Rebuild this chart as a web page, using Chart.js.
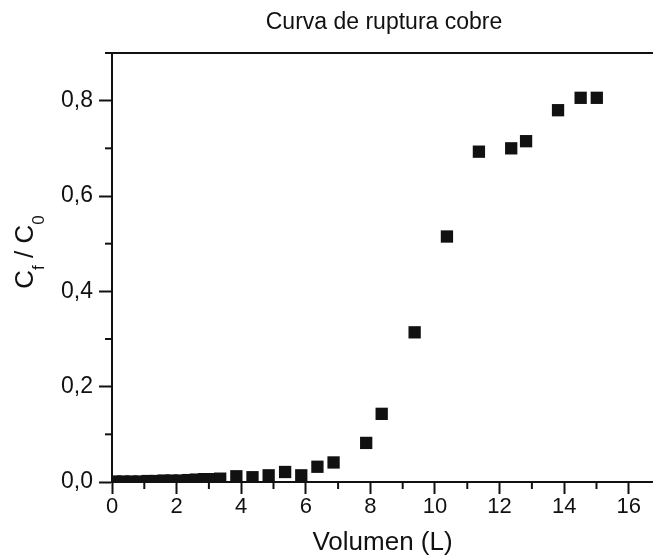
<!DOCTYPE html>
<html lang="es">
  <head>
    <meta charset="UTF-8" />
    <title>Curva de ruptura cobre</title>
    <style>
      html,
      body {
        margin: 0;
        padding: 0;
        background: #fff;
        overflow: hidden;
      }
      #wrap {
        width: 768px;
        height: 560px;
      }
    </style>
  </head>
  <body>
    <div id="wrap"><canvas id="curva"></canvas></div>
    <script src="https://cdn.jsdelivr.net/npm/chart.js"></script>
    <script>
      // Volumen eluido (L) y concentración relativa Cf/C0
      const volumen = [
        0.1, 0.35, 0.6, 0.85, 1.1, 1.35, 1.6, 1.85, 2.1, 2.35, 2.6, 2.85, 3.1,
        3.35, 3.85, 4.35, 4.85, 5.36, 5.86, 6.36, 6.86, 7.87, 8.35, 9.37, 10.37,
        11.36, 12.36, 12.82, 13.81, 14.51, 15.01,
      ];
      const cfC0 = [
        0.001, 0.001, 0.001, 0.001, 0.002, 0.002, 0.003, 0.003, 0.003, 0.004,
        0.005, 0.006, 0.006, 0.007, 0.012, 0.01, 0.014, 0.021, 0.014, 0.032,
        0.041, 0.082, 0.143, 0.314, 0.515, 0.693, 0.7, 0.715, 0.78, 0.806,
        0.806,
      ];
      const xMajor = [0, 2, 4, 6, 8, 10, 12, 14, 16];
      const yMajor = ["0,0", "0,2", "0,4", "0,6", "0,8"];
      const titulo = "Curva de ruptura cobre";

      const negro = "#111";
      const fuente = '"Liberation Sans", Arial, sans-serif';
      Chart.defaults.font.family = fuente;
      Chart.defaults.color = negro;

      const esMayorX = (v) => xMajor.includes(v);
      const esMayorY = (v) => Math.round(v * 10) % 2 === 0;

      // título, marco superior, ticks menores y título del eje Y con subíndices
      const marco = {
        id: "marco",
        afterDraw(chart) {
          const { ctx, chartArea } = chart;
          const sx = chart.scales.x;
          const sy = chart.scales.y;
          ctx.save();
          ctx.fillStyle = negro;
          ctx.font = "23px " + fuente;
          ctx.textAlign = "center";
          ctx.textBaseline = "middle";
          ctx.fillText(titulo, 384, 23);
          ctx.textAlign = "left";

          ctx.strokeStyle = negro;
          ctx.lineWidth = 2;
          ctx.beginPath();
          ctx.moveTo(chartArea.left - 1, chartArea.top);
          ctx.lineTo(chartArea.right + 200, chartArea.top);
          ctx.stroke();

          sx.ticks.forEach((t) => {
            if (esMayorX(t.value)) return;
            const px = sx.getPixelForValue(t.value);
            ctx.beginPath();
            ctx.moveTo(px, chartArea.bottom);
            ctx.lineTo(px, chartArea.bottom + 7);
            ctx.stroke();
          });
          sy.ticks.forEach((t) => {
            if (esMayorY(t.value)) return;
            const py = sy.getPixelForValue(t.value);
            ctx.beginPath();
            ctx.moveTo(chartArea.left, py);
            ctx.lineTo(chartArea.left - 7, py);
            ctx.stroke();
          });

          // C_f / C_0
          const grande = "26px " + fuente;
          const chico = "17px " + fuente;
          const partes = [
            ["C", grande, 0],
            ["f", chico, 11],
            [" / C", grande, 0],
            ["0", chico, 11],
          ];
          let total = 0;
          partes.forEach((p) => {
            ctx.font = p[1];
            total += ctx.measureText(p[0]).width;
          });
          ctx.translate(33, 252);
          ctx.rotate(-Math.PI / 2);
          ctx.textBaseline = "alphabetic";
          let x = -total / 2;
          partes.forEach((p) => {
            ctx.font = p[1];
            ctx.fillText(p[0], x, p[2]);
            x += ctx.measureText(p[0]).width;
          });
          ctx.restore();
        },
      };

      new Chart(document.getElementById("curva"), {
        type: "scatter",
        data: {
          datasets: [
            {
              label: "Cf/C0",
              data: volumen.map((v, i) => ({ x: v, y: cfC0[i] })),
              pointStyle: "rect",
              pointRadius: 8.7,
              pointHoverRadius: 8.7,
              backgroundColor: negro,
              borderColor: negro,
              borderWidth: 0,
              clip: 0,
            },
          ],
        },
        options: {
          responsive: true,
          maintainAspectRatio: false,
          animation: false,
          devicePixelRatio: 1,
          layout: { padding: { left: 0, right: 115, top: 53, bottom: 0 } },
          plugins: {
            legend: { display: false },
            tooltip: { enabled: false },
            title: { display: false },
          },
          scales: {
            x: {
              type: "linear",
              min: 0,
              max: 16.75,
              afterFit(s) {
                s.height = 78;
              },
              border: { color: negro, width: 2 },
              grid: {
                drawOnChartArea: false,
                tickLength: 12,
                tickWidth: 2,
                tickColor: (c) =>
                  c.tick && esMayorX(c.tick.value) ? negro : "rgba(0,0,0,0)",
              },
              ticks: {
                stepSize: 1,
                includeBounds: false,
                autoSkip: false,
                maxRotation: 0,
                padding: 0,
                font: { size: 22 },
                callback: (v) => (esMayorX(v) ? String(v) : ""),
              },
              title: {
                display: true,
                text: "Volumen (L)",
                color: negro,
                font: { size: 26 },
                padding: { top: 0, bottom: 2 },
              },
            },
            y: {
              min: 0,
              max: 0.9,
              afterFit(s) {
                s.width = 112;
              },
              border: { color: negro, width: 2 },
              grid: {
                drawOnChartArea: false,
                tickLength: 13,
                tickWidth: 2,
                tickColor: (c) =>
                  c.tick && esMayorY(c.tick.value) ? negro : "rgba(0,0,0,0)",
              },
              ticks: {
                stepSize: 0.1,
                includeBounds: false,
                autoSkip: false,
                padding: 6,
                font: { size: 23 },
                callback: (v) =>
                  esMayorY(v) ? yMajor[Math.round(v * 5)] : "",
              },
            },
          },
        },
        plugins: [marco],
      });
    </script>
  </body>
</html>
